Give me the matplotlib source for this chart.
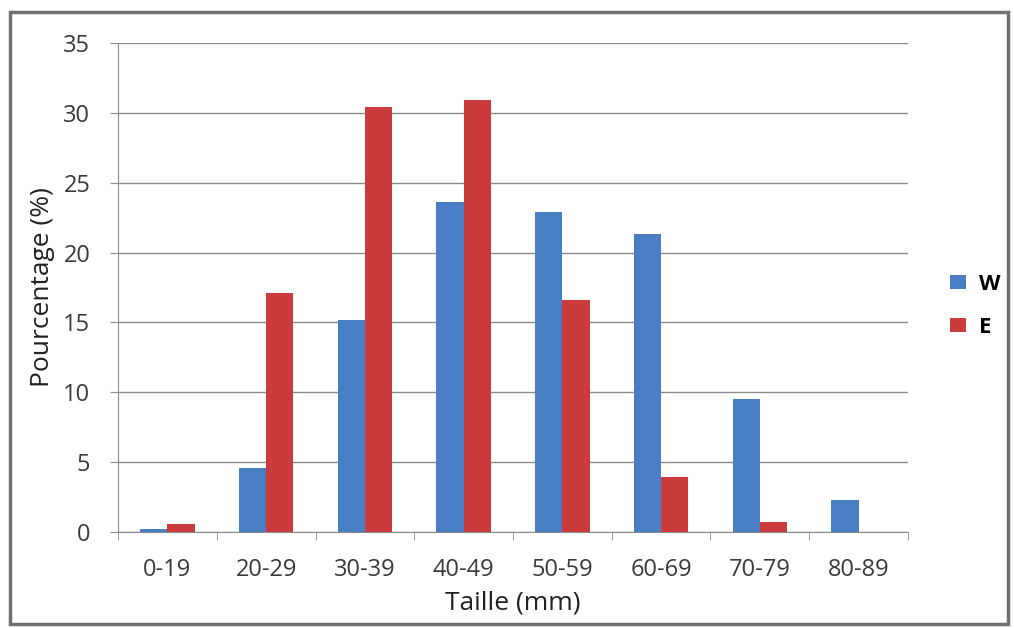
import matplotlib
matplotlib.use("Agg")
import matplotlib.pyplot as plt
import numpy as np
from matplotlib.patches import Rectangle

categories = ["0-19", "20-29", "30-39", "40-49", "50-59", "60-69", "70-79", "80-89"]
w_values = [0.2, 4.6, 15.2, 23.6, 22.9, 21.3, 9.5, 2.3]
e_values = [0.6, 17.1, 30.4, 30.9, 16.6, 3.9, 0.7, 0.0]
yticks = [0, 5, 10, 15, 20, 25, 30, 35]

blue = "#4A7EC4"
red = "#CC3B3B"

plt.rcParams['font.family'] = ['Open Sans', 'DejaVu Sans']

fig = plt.figure(figsize=(10.14, 6.28), dpi=100)
fig.patch.set_facecolor("white")
fig.add_artist(Rectangle((0.010, 0.006), 0.984, 0.975, transform=fig.transFigure,
                         fill=False, edgecolor="#707070", linewidth=2.5))

ax = fig.add_axes([0.1164, 0.1529, 0.779, 0.7786])
x = np.arange(len(categories))
bw = 0.275
ax.bar(x - bw / 2, w_values, width=bw, color=blue, label="W", zorder=3)
ax.bar(x + bw / 2, e_values, width=bw, color=red, label="E", zorder=3)

ax.set_xlim(-0.5, len(categories) - 0.5)
ax.set_ylim(0, 35)
ax.set_yticks(yticks)
ax.set_yticklabels([str(t) for t in yticks], fontsize=17, color="#3a3a3a")
ax.yaxis.grid(True, color="#8c8c8c", linewidth=1.0, zorder=0)
ax.tick_params(axis='y', length=6, color="#8c8c8c", pad=14)
ax.set_xticks(x)
ax.set_xticklabels(categories, fontsize=17, color="#3a3a3a")
ax.set_xticks(np.arange(-0.5, len(categories)), minor=True)
ax.tick_params(axis='x', which='major', length=0, pad=19)
ax.tick_params(axis='x', which='minor', length=6, color="#8c8c8c")

for s in ["top", "right"]:
    ax.spines[s].set_visible(False)
ax.spines["left"].set_color("#8c8c8c")
ax.spines["bottom"].set_color("#8c8c8c")

ax.set_xlabel("Taille (mm)", fontsize=19, color="#222222", labelpad=6)
ax.set_ylabel("Pourcentage (%)", fontsize=19, color="#222222", labelpad=6)

leg = fig.legend(loc="center left", bbox_to_anchor=(0.937, 0.513), frameon=False,
                 prop={'weight': 'bold', 'size': 16}, handlelength=0.7, handleheight=0.55,
                 labelspacing=1.0, handletextpad=0.6, borderpad=0, borderaxespad=0)

fig.savefig("out.png", dpi=100)
